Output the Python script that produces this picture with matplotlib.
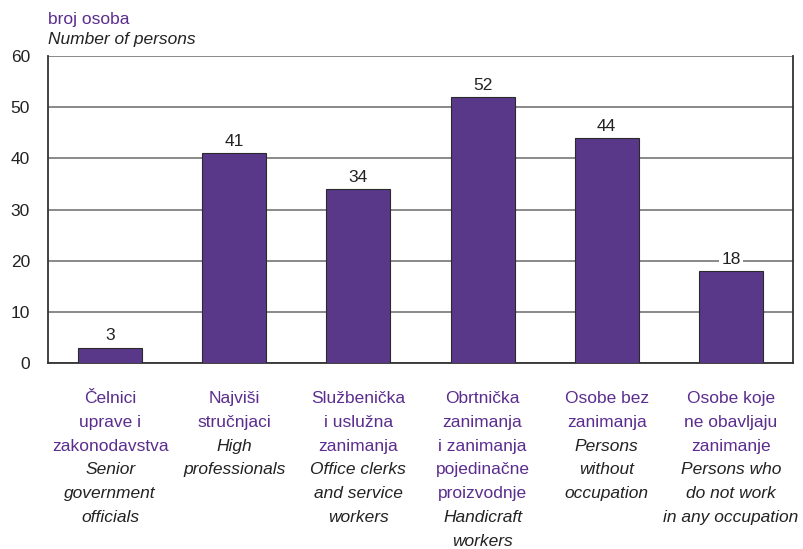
import matplotlib.pyplot as plt
from matplotlib import font_manager

# data
values = [3, 41, 34, 52, 44, 18]
labels_hr = [
    ["Čelnici", "uprave i", "zakonodavstva"],
    ["Najviši", "stručnjaci"],
    ["Službenička", "i uslužna", "zanimanja"],
    ["Obrtnička", "zanimanja", "i zanimanja", "pojedinačne", "proizvodnje"],
    ["Osobe bez", "zanimanja"],
    ["Osobe koje", "ne obavljaju", "zanimanje"],
]
labels_en = [
    ["Senior", "government", "officials"],
    ["High", "professionals"],
    ["Office clerks", "and service", "workers"],
    ["Handicraft", "workers"],
    ["Persons", "without", "occupation"],
    ["Persons who", "do not work", "in any occupation"],
]
yticks = [0, 10, 20, 30, 40, 50, 60]

purple = "#5b2d8e"
bar_color = "#5a3889"

# narrow font if there is one, else plain Liberation Sans a bit smaller
names = {f.name for f in font_manager.fontManager.ttflist}
if 'Liberation Sans Narrow' in names:
    plt.rcParams['font.family'] = ['Liberation Sans Narrow', 'DejaVu Sans']
    fs = 14.5
else:
    plt.rcParams['font.family'] = ['Liberation Sans', 'DejaVu Sans']
    fs = 12.5

fig = plt.figure(figsize=(8.04, 5.49), dpi=100)
ax = fig.add_axes([48/804, 1-363/549, (793-48)/804, (363-56)/549])

x = list(range(len(values)))
ax.bar(x, values, width=0.515, color=bar_color, edgecolor="#2a2a2a", linewidth=0.8, zorder=3)

ax.set_xlim(-0.5, len(values) - 0.5)
ax.set_ylim(0, 60)
ax.set_yticks(yticks)
ax.set_xticks([])
ax.tick_params(axis='y', length=0, pad=13, labelsize=fs, labelcolor="#222222")
ax.grid(axis='y', color="#808080", linewidth=1.3, zorder=0)
ax.spines['top'].set_visible(False)
for s in ['left', 'bottom', 'right']:
    ax.spines[s].set_color("#333333")
    ax.spines[s].set_linewidth(1.3)

for xi, v in zip(x, values):
    ax.annotate(str(v), (xi, v), xytext=(0, 3), textcoords='offset points',
                ha='center', va='bottom', fontsize=fs, color="#222222", zorder=4,
                bbox=dict(boxstyle='square,pad=0.15', fc='white', ec='none'))

px = 0.72  # points per pixel
first = 40 * px
step = 23.8 * px
for xi, hr, en in zip(x, labels_hr, labels_en):
    lines = [(t, purple, 'normal') for t in hr] + [(t, "#222222", 'italic') for t in en]
    for i, (t, c, st) in enumerate(lines):
        ax.annotate(t, (xi, 0), xycoords=('data', 'axes fraction'),
                    xytext=(0, -(first + i * step)), textcoords='offset points',
                    ha='center', va='baseline', fontsize=fs, color=c, style=st,
                    annotation_clip=False)

fig.text(48/804, 1-24/549, "broj osoba", fontsize=fs, color=purple, va='baseline', ha='left')
fig.text(48/804, 1-44/549, "Number of persons", fontsize=fs, color="#222222",
         style='italic', va='baseline', ha='left')

fig.savefig("out.png", dpi=100)
